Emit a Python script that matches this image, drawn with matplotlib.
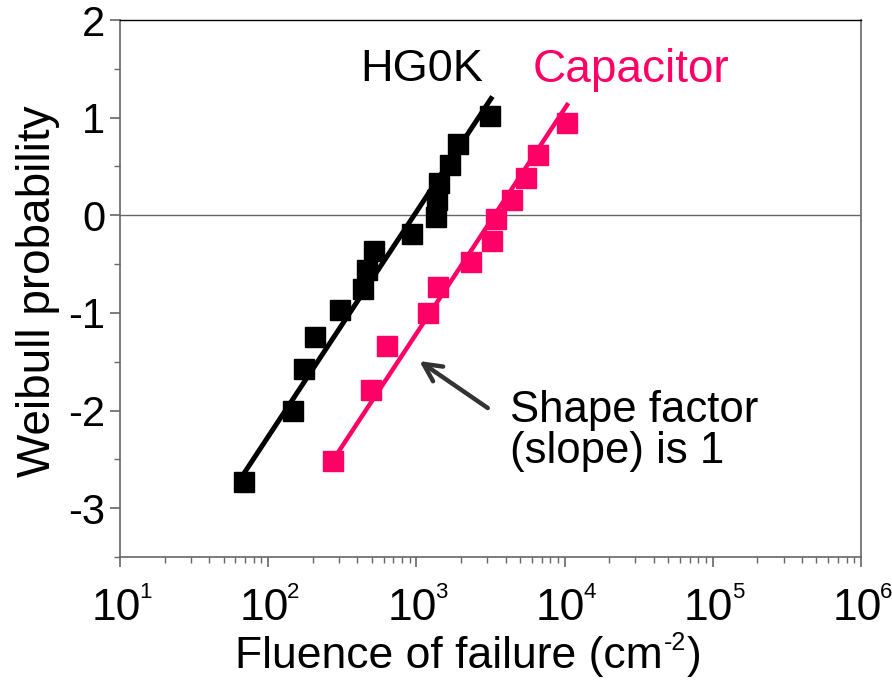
import numpy as np
import matplotlib
matplotlib.use("Agg")
import matplotlib.pyplot as plt
from matplotlib import font_manager as fm
from matplotlib import transforms as mtrans
from matplotlib.ticker import LogLocator, FixedLocator, NullFormatter

# ---- data ----
hg0k_x = [69, 147, 175, 207, 305, 437, 464, 518, 933, 1355, 1370, 1420, 1687, 1910, 3140]
hg0k_y = [-2.73, -2.00, -1.57, -1.25, -0.975, -0.76, -0.56, -0.37, -0.19, -0.02, 0.155, 0.33, 0.52, 0.73, 1.02]
cap_x = [274, 494, 633, 1197, 1400, 2333, 3237, 3444, 4416, 5500, 6620, 10380]
cap_y = [-2.52, -1.79, -1.34, -1.00, -0.73, -0.48, -0.26, -0.04, 0.16, 0.38, 0.62, 0.94]
# Weibull fits with shape factor 1: y = ln(x / eta)
hg0k_eta = 965.0
hg0k_fit_range = [69, 3190]
cap_eta = 3360.0
cap_fit_range = [283, 10400]
y_ticks = [-3, -2, -1, 0, 1, 2]
x_ticks = [1e1, 1e2, 1e3, 1e4, 1e5, 1e6]
x_tick_exps = ['1', '2', '3', '4', '5', '6']

names = {f.name for f in fm.fontManager.ttflist}
base = "Liberation Sans" if "Liberation Sans" in names else "DejaVu Sans"

plt.rcParams['font.family'] = [base, 'DejaVu Sans']
plt.rcParams['axes.unicode_minus'] = False

PINK = '#FF0066'
GRAY = '#666666'
W, H = 892, 688

fig = plt.figure(figsize=(W/100, H/100), dpi=100)
ax = fig.add_axes([120/W, 1-557/H, (861-120)/W, (557-20)/H])

ax.set_xscale('log')
ax.set_xlim(1e1, 1e6)
ax.set_ylim(-3.5, 2)

ax.axhline(0, color=GRAY, lw=1.0, zorder=1)

def fit(eta, rng):
    xs = np.logspace(np.log10(rng[0]), np.log10(rng[1]), 50)
    return xs, np.log(xs / eta)

fx, fy = fit(hg0k_eta, hg0k_fit_range)
ax.plot(hg0k_x, hg0k_y, 's', color='black', ms=13.8, zorder=3)
ax.plot(fx, fy, '-', color='black', lw=3.6, zorder=4)
fx, fy = fit(cap_eta, cap_fit_range)
ax.plot(cap_x, cap_y, 's', color=PINK, ms=13.8, zorder=3)
ax.plot(fx, fy, '-', color=PINK, lw=3.2, zorder=4)

ax.text(417, 1.49, 'HG0K', fontsize=32.5, color='black', ha='left', va='center')
ax.text(6120, 1.49, 'Capacitor', fontsize=33, color=PINK, ha='left', va='center')

ax.annotate('', xy=(1010, -1.477), xytext=(3140, -1.99),
            arrowprops=dict(arrowstyle='->', lw=3.2, color='#333333', mutation_scale=32))
ax.text(4290, -2.21, 'Shape factor\n(slope) is 1', fontsize=31.5, color='black',
        ha='left', va='center', linespacing=1.02)

# spines
for s in ['left', 'bottom', 'right']:
    ax.spines[s].set_color(GRAY)
    ax.spines[s].set_linewidth(1.2)
ax.spines['top'].set_color('black')
ax.spines['top'].set_linewidth(1.0)

ax.yaxis.set_major_locator(FixedLocator(y_ticks))
ax.yaxis.set_minor_locator(FixedLocator([-3.5, -2.5, -1.5, -0.5, 0.5, 1.5]))
ax.set_yticklabels([str(t) for t in y_ticks])
ax.xaxis.set_major_locator(FixedLocator(x_ticks))
ax.xaxis.set_minor_locator(LogLocator(base=10, subs=np.arange(2, 10)))
ax.xaxis.set_minor_formatter(NullFormatter())

ax.tick_params(axis='both', which='major', direction='out', length=7.2, width=1.2, color=GRAY)
ax.tick_params(axis='both', which='minor', direction='out', length=4.5, width=1.0, color=GRAY)
ax.tick_params(axis='y', labelsize=30, pad=3.5)
ax.tick_params(axis='x', labelbottom=False)

# x tick labels: "10" centred on the tick, small raised exponent
blend = mtrans.blended_transform_factory(ax.transData, ax.transAxes)
for v, e in zip(x_ticks, x_tick_exps):
    ax.text(v, 0, '10', fontsize=32,
            transform=mtrans.offset_copy(blend, fig=fig, x=-4, y=-63, units='dots'),
            ha='center', va='baseline', clip_on=False)
    ax.text(v, 0, e, fontsize=16,
            transform=mtrans.offset_copy(blend, fig=fig, x=19, y=-41, units='dots'),
            ha='left', va='baseline', clip_on=False)

# x label composed with a small raised "-2"
renderer = fig.canvas.get_renderer()
t1 = fig.text(235/W, 1-668/H, 'Fluence of failure (cm', fontsize=32, ha='left', va='baseline')
bb = t1.get_window_extent(renderer)
t2 = fig.text((bb.x1 + 1)/W, 1-650/H, '-2', fontsize=18, ha='left', va='baseline')
bb2 = t2.get_window_extent(renderer)
fig.text((bb2.x1 + 1)/W, 1-668/H, ')', fontsize=32, ha='left', va='baseline')

ax.set_ylabel('Weibull probability', fontsize=33)
ax.yaxis.set_label_coords(-0.081, 0.495)

fig.savefig('out.png', dpi=100)
